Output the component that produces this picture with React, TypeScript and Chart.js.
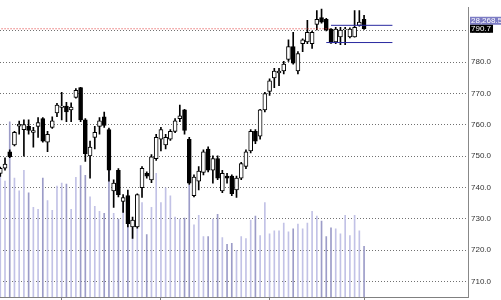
import React, { useEffect, useRef } from 'react';
import { Chart, registerables } from 'chart.js';

Chart.register(...registerables);

// ---- data ----
const opens = [744.5, 746.2, 751.4, 753.6, 759.6, 758.5, 759.5, 757.6, 759.5, 762.0,
  754.5, 759.2, 763.8, 765.6, 766.0, 764.8, 768.8, 771.9, 761.6, 750.1,
  756.0, 759.5, 762.6, 758.5, 738.9, 745.5, 735.5, 737.4, 727.4, 727.4,
  739.9, 744.5, 742.4, 749.2, 755.4, 753.6, 755.4, 757.9, 762.0, 764.8,
  755.4, 737.4, 742.0, 744.8, 752.3, 745.5, 749.2, 738.9, 743.6, 743.6,
  739.2, 743.0, 746.7, 751.7, 757.9, 756.4, 764.8, 770.7, 775.0, 776.6,
  777.2, 780.9, 785.0, 777.2, 785.9, 786.5, 785.9, 792.1, 794.3, 793.7,
  790.6, 786.5, 788.1, 790.4, 788.1, 788.1, 791.8, 793.7];
const highs = [746.5, 749.5, 752.0, 757.9, 761.2, 761.6, 761.6, 759.2, 762.3, 762.3,
  757.9, 762.6, 766.9, 770.4, 767.2, 767.0, 771.6, 772.0, 762.0, 754.8,
  759.5, 762.3, 764.1, 759.0, 742.4, 746.0, 737.7, 739.2, 730.5, 738.0,
  746.7, 745.0, 750.5, 757.0, 759.2, 757.0, 758.5, 762.0, 766.3, 765.0,
  756.0, 744.0, 746.7, 752.0, 753.0, 750.1, 750.1, 745.5, 744.5, 744.0,
  743.6, 748.0, 752.0, 758.5, 758.5, 765.0, 770.4, 774.7, 778.1, 778.1,
  780.3, 787.2, 789.6, 783.4, 787.5, 793.4, 790.0, 796.5, 797.0, 794.0,
  790.8, 791.2, 791.2, 791.2, 791.0, 796.5, 796.5, 795.0];
const lows = [743.5, 745.5, 749.5, 753.3, 757.0, 750.0, 757.0, 752.9, 756.0, 754.5,
  751.4, 758.9, 762.6, 761.6, 761.0, 761.0, 768.5, 761.0, 748.3, 743.0,
  752.3, 757.0, 759.2, 742.0, 733.6, 737.0, 732.0, 727.4, 723.7, 727.0,
  736.8, 743.0, 741.5, 748.6, 751.7, 752.3, 755.0, 757.5, 761.0, 757.0,
  741.0, 737.0, 739.2, 744.0, 745.0, 741.4, 742.5, 738.3, 741.4, 737.4,
  736.8, 742.5, 746.0, 751.0, 754.0, 755.4, 764.1, 769.4, 771.9, 772.5,
  776.3, 780.3, 779.4, 776.3, 783.4, 785.9, 784.4, 790.3, 792.5, 790.0,
  786.0, 785.9, 785.6, 785.6, 787.8, 788.0, 791.5, 790.5];
const closes = [746.1, 747.5, 749.8, 757.6, 760.2, 760.1, 758.2, 758.2, 760.7, 754.8,
  757.0, 761.3, 766.3, 766.0, 764.1, 765.7, 771.0, 761.6, 750.8, 752.9,
  757.6, 761.3, 759.8, 745.5, 741.4, 737.7, 736.8, 728.4, 729.6, 737.7,
  746.1, 743.6, 749.8, 756.0, 758.5, 756.0, 757.9, 761.3, 762.9, 758.2,
  741.4, 743.3, 745.2, 751.4, 745.5, 749.2, 743.0, 744.5, 743.0, 738.0,
  743.0, 747.6, 751.4, 757.9, 754.8, 764.8, 770.0, 774.1, 777.2, 777.2,
  779.4, 785.0, 779.7, 782.8, 787.2, 789.6, 789.6, 793.7, 792.8, 790.3,
  786.2, 790.6, 790.3, 790.6, 790.6, 791.2, 792.8, 790.7];
const volumes = [129, 119, 180, 122, 109, 130, 107, 92, 90, 122,
  99, 89, 114, 117, 116, 90, 123, 135, 125, 103,
  93, 88, 86, 137, 86, 80, 97, 75, 72, 71,
  97, 64, 92, 127, 97, 112, 104, 82, 80, 81,
  115, 74, 84, 62, 62, 80, 85, 61, 54, 55,
  48, 62, 60, 79, 83, 63, 97, 65, 68, 68,
  76, 67, 70, 75, 70, 76, 88, 83, 78, 62,
  71, 70, 65, 84, 63, 84, 68, 52];
const monthTickIndex = [13, 34, 57, 77];
const monthLabels = ['Jul', 'Aug', 'Sep', 'Oct'];
const priceTicks = [710, 720, 730, 740, 750, 760, 770, 780, 790];
const lastPrice = 790.7;
const indexLabel = '28,268.53';
const channelUpper = 791.8;
const channelLower = 786.3;
const channelUpperStart = 70;
const channelLowerStart = 69;
const channelEnd = 83;
const refLineEnd = 70;

export default function App() {
  const ref = useRef<HTMLCanvasElement | null>(null);

  useEffect(() => {
    const canvas = ref.current;
    if (!canvas) return;
    const idx = opens.map((_, i) => i);
    const up = idx.map((i) => closes[i] >= opens[i]);

    const labelPlugin = {
      id: 'priceLabels',
      afterDraw(chart: any) {
        const { ctx } = chart;
        const ys = chart.scales.y;
        const area = chart.chartArea;
        const y = ys.getPixelForValue(lastPrice);
        ctx.save();
        ctx.font = '8px "Liberation Sans", Arial, sans-serif';
        ctx.textBaseline = 'middle';
        ctx.textAlign = 'left';
        const x0 = area.right + 2;
        const w1 = ctx.measureText(indexLabel).width + 2;
        ctx.fillStyle = '#7c7cc4';
        ctx.fillRect(x0, y - 12, w1, 8);
        ctx.fillStyle = '#ffffff';
        ctx.fillText(indexLabel, x0 + 1, y - 8);
        const t = lastPrice.toFixed(1);
        const w2 = ctx.measureText(t).width + 3;
        ctx.fillStyle = '#000000';
        ctx.fillRect(x0, y - 4, w2, 8);
        ctx.fillStyle = '#ffffff';
        ctx.fillText(t, x0 + 1, y);
        ctx.restore();
      },
    };

    const chart = new Chart(canvas, {
      type: 'bar',
      data: {
        datasets: [
          {
            type: 'bar',
            label: 'Volume',
            data: idx.map((i) => ({ x: i, y: volumes[i] })) as any,
            yAxisID: 'v',
            backgroundColor: idx.map((i) => (up[i] ? '#c2c2e6' : '#9c9cc8')),
            barThickness: 1,
            grouped: false,
            order: 5,
          } as any,
          {
            type: 'bar',
            label: 'Range',
            data: idx.map((i) => ({ x: i, y: [lows[i], highs[i]] })) as any,
            yAxisID: 'y',
            backgroundColor: '#000000',
            barThickness: 1,
            grouped: false,
            order: 4,
          } as any,
          {
            type: 'bar',
            label: 'Body',
            data: idx.map((i) => ({ x: i, y: [opens[i], closes[i]] })) as any,
            yAxisID: 'y',
            backgroundColor: idx.map((i) => (up[i] ? '#ffffff' : '#000000')),
            borderColor: '#000000',
            borderWidth: 1,
            borderSkipped: false,
            barThickness: 4,
            grouped: false,
            order: 3,
          } as any,
          {
            type: 'line',
            label: 'Last',
            data: [{ x: -1, y: lastPrice }, { x: refLineEnd, y: lastPrice }],
            yAxisID: 'y',
            borderColor: '#e03030',
            borderWidth: 1,
            borderDash: [1, 2],
            pointRadius: 0,
            order: 2,
          } as any,
          {
            type: 'line',
            label: 'Upper',
            data: [{ x: channelUpperStart, y: channelUpper }, { x: channelEnd, y: channelUpper }],
            yAxisID: 'y',
            borderColor: '#2a2aa0',
            borderWidth: 1,
            pointRadius: 0,
            order: 1,
          } as any,
          {
            type: 'line',
            label: 'Lower',
            data: [{ x: channelLowerStart, y: channelLower }, { x: channelEnd, y: channelLower }],
            yAxisID: 'y',
            borderColor: '#2a2aa0',
            borderWidth: 1,
            pointRadius: 0,
            order: 1,
          } as any,
        ],
      },
      options: {
        animation: false,
        responsive: false,
        maintainAspectRatio: false,
        layout: { padding: 0 },
        plugins: { legend: { display: false }, tooltip: { enabled: false } },
        scales: {
          x: {
            type: 'linear',
            min: -0.06,
            max: 99,
            offset: false,
            grid: { display: true, offset: false, drawOnChartArea: false, drawTicks: true, tickLength: 4, color: '#808080' },
            border: { display: true, color: '#808080' },
            ticks: {
              autoSkip: false,
              maxRotation: 0,
              align: 'start',
              padding: 0,
              color: '#333',
              font: { size: 8, family: '"Liberation Sans", Arial, sans-serif' },
              callback: (v: any) => {
                const k = monthTickIndex.indexOf(Number(v));
                return k >= 0 ? monthLabels[k] : '';
              },
            },
            afterBuildTicks: (s: any) => {
              s.ticks = monthTickIndex.map((v) => ({ value: v }));
            },
            afterFit: (s: any) => {
              s.height = 15;
              s.paddingLeft = 0;
              s.paddingRight = 0;
            },
          } as any,
          y: {
            type: 'linear',
            position: 'right',
            min: 705,
            max: 797.4,
            grid: { color: '#707070', drawTicks: false, lineWidth: 1 },
            border: { display: true, color: '#888888', dash: [1, 2] },
            ticks: {
              padding: 3,
              color: '#333',
              font: { size: 8, family: '"Liberation Sans", Arial, sans-serif' },
              callback: (v: any) => Number(v).toFixed(1),
            },
            afterBuildTicks: (s: any) => {
              s.ticks = priceTicks.map((v) => ({ value: v }));
            },
            afterFit: (s: any) => {
              s.width = 33;
            },
          } as any,
          v: {
            type: 'linear',
            display: false,
            min: 0,
            max: 297,
          },
        },
      } as any,
      plugins: [labelPlugin],
    });
    return () => chart.destroy();
  }, []);

  return (
    <div style={{ position: 'fixed', left: 0, top: 0, width: 501, height: 312, background: '#fff' }}>
      <canvas ref={ref} width={501} height={312} style={{ display: 'block' }} />
    </div>
  );
}
